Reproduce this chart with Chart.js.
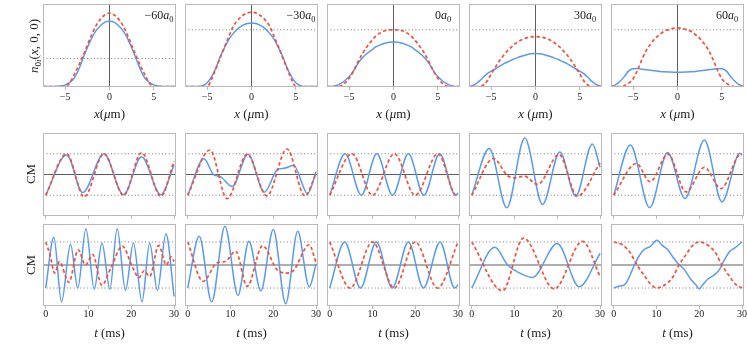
<!DOCTYPE html>
<html>
<head>
<meta charset="utf-8">
<script src="https://cdn.jsdelivr.net/npm/chart.js@4.4.1/dist/chart.umd.min.js"></script>
<style>
  html, body { margin: 0; padding: 0; background: #fff; }
  body { width: 747px; height: 347px; position: relative; overflow: hidden;
         font-family: "Liberation Serif", "DejaVu Serif", serif; color: #222; }
  canvas { position: absolute; }
  .lbl { position: absolute; white-space: nowrap; transform: translate(-50%, -50%); font-size: 13px; line-height: 1; }
  .rot { transform: translate(-50%, -50%) rotate(-90deg); }
  .ann { font-size: 12px; }
  sub { font-size: 70%; vertical-align: -0.35em; line-height: 0; }
</style>
</head>
<body>
<script>
// ---- data -----------------------------------------------------------------
// top row: density cut n_0i(x,0,0) for each scattering length
const shifts = ["\u221260", "\u221230", "0", "30", "60"];
const profX = [-7.5, -7, -6.5, -6, -5.5, -5, -4.5, -4, -3.5, -3, -2.5, -2, -1.5, -1, -0.5, 0,
               0.5, 1, 1.5, 2, 2.5, 3, 3.5, 4, 4.5, 5, 5.5, 6, 6.5, 7, 7.5];
const p1Blue = [0, 0, 0, 0, 0.005, 0.02, 0.05, 0.10, 0.20, 0.34, 0.47, 0.59, 0.68, 0.74, 0.78, 0.79,
                0.78, 0.74, 0.68, 0.59, 0.47, 0.34, 0.20, 0.10, 0.05, 0.02, 0.005, 0, 0, 0, 0];
const p1Red  = [0, 0, 0, 0, 0, 0, 0.04, 0.14, 0.25, 0.37, 0.50, 0.63, 0.74, 0.82, 0.87, 0.89,
                0.87, 0.82, 0.74, 0.63, 0.50, 0.37, 0.25, 0.14, 0.04, 0, 0, 0, 0, 0, 0];
const p2Blue = [0, 0, 0, 0, 0.01, 0.045, 0.12, 0.23, 0.37, 0.48, 0.58, 0.65, 0.705, 0.74, 0.763, 0.77,
                0.763, 0.74, 0.705, 0.65, 0.58, 0.48, 0.37, 0.23, 0.12, 0.045, 0.01, 0, 0, 0, 0];
const p2Red  = [0, 0, 0, 0, 0, 0, 0.09, 0.22, 0.355, 0.49, 0.62, 0.74, 0.81, 0.86, 0.89, 0.90,
                0.89, 0.86, 0.81, 0.74, 0.62, 0.49, 0.355, 0.22, 0.09, 0, 0, 0, 0, 0, 0];
const p3Blue = [0, 0, 0.01, 0.035, 0.07, 0.12, 0.19, 0.28, 0.35, 0.40, 0.44, 0.48, 0.505, 0.525, 0.537, 0.54,
                0.537, 0.525, 0.505, 0.48, 0.44, 0.40, 0.35, 0.28, 0.19, 0.12, 0.07, 0.035, 0.01, 0, 0];
const p3Red  = [0, 0, 0, 0.005, 0.04, 0.10, 0.19, 0.30, 0.40, 0.48, 0.55, 0.61, 0.65, 0.675, 0.685, 0.69,
                0.685, 0.675, 0.65, 0.61, 0.55, 0.48, 0.40, 0.30, 0.19, 0.10, 0.04, 0.005, 0, 0, 0];
const p4Blue = [0, 0.015, 0.05, 0.10, 0.15, 0.185, 0.215, 0.25, 0.28, 0.305, 0.33, 0.35, 0.37, 0.385, 0.397, 0.40,
                0.397, 0.385, 0.37, 0.35, 0.33, 0.305, 0.28, 0.25, 0.215, 0.185, 0.15, 0.10, 0.05, 0.015, 0];
const p4Red  = [0, 0, 0, 0.01, 0.06, 0.15, 0.24, 0.32, 0.39, 0.45, 0.50, 0.54, 0.57, 0.59, 0.60, 0.606,
                0.60, 0.59, 0.57, 0.54, 0.50, 0.45, 0.39, 0.32, 0.24, 0.15, 0.06, 0.01, 0, 0, 0];
const p5Blue = [0, 0.02, 0.06, 0.12, 0.19, 0.215, 0.218, 0.21, 0.203, 0.197, 0.19, 0.183, 0.178, 0.175, 0.173, 0.173,
                0.173, 0.175, 0.178, 0.183, 0.19, 0.197, 0.203, 0.21, 0.218, 0.215, 0.19, 0.12, 0.06, 0.02, 0];
const p5Red  = [0, 0, 0, 0.01, 0.04, 0.095, 0.20, 0.33, 0.44, 0.52, 0.585, 0.63, 0.67, 0.69, 0.705, 0.71,
                0.705, 0.69, 0.67, 0.63, 0.585, 0.52, 0.44, 0.33, 0.20, 0.095, 0.04, 0.01, 0, 0, 0];
const profLevel = [0.34, 0.687, 0.687, 0.687, 0.687];   // dotted reference level per column

// middle row: centre-of-mass oscillation (t in ms)
const r2c1BlueT = [0, 4.9, 8.65, 13.6, 18.2, 22.4, 26.9, 30];
const r2c1BlueY = [-1, 0.94, -0.87, 1.0, -0.97, 0.85, -0.97, 0.45];
const r2c1RedT  = [0, 4.9, 9.0, 13.6, 18.2, 22.4, 26.9, 30];
const r2c1RedY  = [-1, 1.0, -1.08, 1.0, -1.0, 1.05, -1.05, 0.65];
const r2c2BlueT = [0, 3.8, 6.1, 7.6, 10.4, 14.1, 17.9, 21.0, 22.5, 24.8, 28.0, 30];
const r2c2BlueY = [-1, 0.76, -0.02, -0.1, -0.58, 0.98, -0.85, 0.24, 0.3, 0.43, -0.92, 0.13];
const r2c2RedT  = [0, 5.2, 9.2, 13.9, 18.5, 23.2, 27.4, 30];
const r2c2RedY  = [-1, 1.18, -1.16, 0.98, -1.03, 1.23, -1.03, 0.05];
const r2c3BlueT = [0, 3.6, 7.4, 11.0, 14.7, 18.4, 22.0, 25.7, 29.4, 30];
const r2c3BlueY = [-1, 1, -1, 1, -1, 1, -1, 1, -1, -0.9];
const r2c3RedT  = [0, 5.2, 10.0, 15.1, 20.0, 25.3, 29.6, 30];
const r2c3RedY  = [-1, 1, -1, 1, -1, 1, -1, -0.95];
const r2c4BlueT = [0, 4.1, 8.2, 12.4, 16.55, 20.6, 24.3, 28.2, 30];
const r2c4BlueY = [-1, 1.25, -1.6, 1.76, -1.44, 1.09, -1.04, 1.47, 0.35];
const r2c4RedT  = [0, 5.1, 8.4, 9.9, 12.3, 15.4, 20.4, 24.7, 30];
const r2c4RedY  = [-1, 0.77, -0.06, -0.16, -0.08, -0.48, 0.96, -1.04, 0.56];
const r2c5BlueT = [0, 3.9, 8.4, 12.6, 16.65, 21.2, 25.3, 29.5, 30];
const r2c5BlueY = [-1, 1.42, -1.6, 1.06, -1.16, 1.66, -1.32, 1.02, 0.94];
const r2c5RedT  = [0, 5.3, 8.5, 12.7, 16.9, 21.2, 25.1, 29.7, 30];
const r2c5RedY  = [-1, 0.53, -0.35, 0.98, -0.84, 0.34, -0.68, 0.98, 0.96];

// bottom row
const r3c1BlueT = [0, 1.9, 3.7, 5.8, 7.5, 9.4, 11.35, 13.15, 15.0, 16.7, 18.65, 20.5, 22.5, 24.3, 26.1, 28.1, 30];
const r3c1BlueY = [-1, 1.2, -1.6, 0.9, -1.0, 1.57, -1.05, 0.95, -1.05, 1.57, -1.1, 0.95, -1.6, 0.96, -1.1, 1.36, -1.36];
const r3c1RedT  = [0, 1.0, 2.1, 3.2, 5.4, 7.6, 9.3, 11.0, 13.1, 15.3, 17.9, 20.3, 21.8, 23.0, 24.3, 26.4, 28.2, 29.3, 30];
const r3c1RedY  = [1.0, 0.45, -0.35, 0.15, -0.75, 0.66, 0.0, 0.45, -0.88, -0.1, 0.82, -0.1, -0.55, -0.25, -0.5, 0.85, 0.0, 0.35, 0.15];
const r3c2BlueT = [0, 2.7, 5.6, 8.7, 11.75, 14.3, 17.1, 20.0, 22.9, 25.7, 28.4, 30];
const r3c2BlueY = [-1, 1.25, -1.6, 1.68, -1.32, 1.03, -1.12, 1.54, -1.68, 1.46, -0.95, 0.05];
const r3c2RedT  = [0, 3.6, 6.9, 8.8, 11.2, 13.9, 17.5, 21.0, 23.3, 24.8, 28.4, 30];
const r3c2RedY  = [1, -0.71, 0.1, 0.15, 0.6, -0.93, 0.84, -0.23, -0.35, -0.22, 0.88, 0.09];
const r3c3BlueT = [0, 3.5, 7.2, 10.9, 14.6, 18.4, 21.9, 25.8, 29.2, 30];
const r3c3BlueY = [-1, 1, -1, 1, -1, 1, -1, 1, -1, -0.86];
const r3c3RedT  = [0, 4.8, 10.0, 15.1, 20.0, 25.2, 30];
const r3c3RedY  = [1, -1, 1, -1, 1, -1, 1];
const r3c4BlueT = [0, 5.4, 8.4, 10.7, 14.2, 20.0, 25.1, 30];
const r3c4BlueY = [-1, 0.77, 0.0, -0.3, -0.54, 0.93, -0.94, 0.5];
const r3c4RedT  = [0, 7.2, 12.1, 19.3, 25.9, 30];
const r3c4RedY  = [1, -1.12, 1.17, -1.04, 1.03, -0.5];
const r3c5BlueT = [0, 1.0, 2.7, 4.7, 5.9, 7.1, 8.6, 10.05, 11.4, 12.6, 13.7, 14.9, 16.5, 18.1, 19.2, 20.0,
                   20.8, 22.0, 23.6, 24.7, 25.9, 27.1, 28.3, 30];
const r3c5BlueY = [-1, -0.93, -0.83, -0.06, 0.38, 0.67, 0.81, 1.07, 0.84, 0.67, 0.38, 0.09, -0.2, -0.64, -0.86, -1.04,
                   -0.86, -0.61, -0.42, -0.2, 0.23, 0.59, 0.74, 1.0];
const r3c5RedT  = [0, 2, 3.9, 5.2, 7.0, 8.6, 10.05, 12, 13.9, 15.1, 16.9, 18.4, 20, 22, 23.9, 25.1, 26.9, 28.5, 30];
const r3c5RedY  = [1, 0.88, 0.52, 0.08, -0.42, -0.82, -1, -0.86, -0.5, -0.05, 0.45, 0.84, 1, 0.86, 0.5, 0.05, -0.45, -0.84, -1];

const profTicks = [-5, 0, 5];
const timeTicks = [0, 10, 20, 30];

// ---- styling -----------------------------------------------------------------
const BLUE = "#5a9bef", RED = "#f4513c", FRAME = "#b9b9b9", DOTS = "#7a7a7a", AXIS = "#5e5e5e";
const FONT = '"Liberation Serif", "DejaVu Serif", serif';
const colLeft = [43, 185, 327, 469, 611];
const PW = 133, PAD = 14;
const rowBox = [{ top: 4, h: 83 }, { top: 133, h: 83 }, { top: 224, h: 82 }];

function pts(xs, ys) { return xs.map((x, i) => ({ x, y: ys[i] })); }

function curve(data, color, dashed) {
  return {
    data, borderColor: color, borderWidth: dashed ? 1.7 : 1.5,
    borderDash: dashed ? [3.5, 2.5] : [], cubicInterpolationMode: "monotone",
    pointRadius: 0, fill: false,
  };
}
function guide(data, color, dash) {
  return { data, borderColor: color, borderWidth: 1, borderDash: dash || [], pointRadius: 0, tension: 0, fill: false };
}

// frame round the plot area
const framePlugin = {
  id: "frame",
  afterDatasetsDraw(chart) {
    const { ctx, chartArea: a } = chart;
    ctx.save();
    ctx.strokeStyle = FRAME;
    ctx.lineWidth = 1;
    ctx.strokeRect(a.left + 0.5, a.top + 0.5, a.right - a.left - 1, a.bottom - a.top - 1);
    ctx.restore();
  },
};

function makePanel(row, col, datasets, xr, yr, xTicks, axisH, showLabels, tickPad) {
  const box = rowBox[row];
  const cv = document.createElement("canvas");
  const w = PW + 2 * PAD, h = PAD + box.h + axisH;
  cv.width = w; cv.height = h;
  cv.style.width = w + "px"; cv.style.height = h + "px";
  cv.style.left = (colLeft[col] - PAD) + "px";
  cv.style.top = (box.top - PAD) + "px";
  document.body.appendChild(cv);
  new Chart(cv, {
    type: "line",
    data: { datasets },
    options: {
      responsive: false, animation: false, devicePixelRatio: 1,
      layout: { padding: { left: PAD, right: PAD, top: PAD, bottom: 0 } },
      plugins: { legend: { display: false }, tooltip: { enabled: false } },
      scales: {
        x: {
          type: "linear", min: xr[0], max: xr[1],
          afterBuildTicks: (s) => { s.ticks = xTicks.map((v) => ({ value: v })); },
          afterFit: (s) => { s.height = axisH; },
          border: { display: false },
          grid: { display: true, drawOnChartArea: false, drawTicks: true, tickLength: 3, color: FRAME },
          ticks: {
            display: showLabels, autoSkip: false, maxRotation: 0, padding: tickPad, color: "#222",
            font: { family: FONT, size: 10 },
            callback: (v) => (v < 0 ? "\u2212" + Math.abs(v) : String(v)),
          },
        },
        y: { type: "linear", display: false, min: yr[0], max: yr[1] },
      },
    },
    plugins: [framePlugin],
  });
}

function label(html, x, y, cls) {
  const d = document.createElement("div");
  d.className = "lbl " + (cls || "");
  d.innerHTML = html;
  d.style.left = x + "px";
  d.style.top = y + "px";
  document.body.appendChild(d);
}

// ---- top row ---------------------------------------------------------------
const profBlue = [p1Blue, p2Blue, p3Blue, p4Blue, p5Blue];
const profRed = [p1Red, p2Red, p3Red, p4Red, p5Red];
const PX = [-7.5, 7.5], PY = [-0.006, 1.0];
for (let c = 0; c < 5; c++) {
  makePanel(0, c, [
    curve(pts(profX, profRed[c]), RED, true),
    curve(pts(profX, profBlue[c]), BLUE, false),
    guide([{ x: PX[0], y: profLevel[c] }, { x: PX[1], y: profLevel[c] }], DOTS, [1, 2.4]),
    guide([{ x: 0, y: PY[0] }, { x: 0, y: PY[1] }], AXIS),
  ], PX, PY, profTicks, 24, true, 1);
  label(shifts[c] + "<i>a</i><sub>0</sub>", colLeft[c] + 116, 15, "ann");
  label(c === 0 ? "<i>x</i>(<i>\u03bc</i>m)" : "<i>x</i> (<i>\u03bc</i>m)", colLeft[c] + PW / 2, 113);
}

// ---- CM rows -----------------------------------------------------------------
const cmRows = [
  [[r2c1BlueT, r2c1BlueY, r2c1RedT, r2c1RedY], [r2c2BlueT, r2c2BlueY, r2c2RedT, r2c2RedY],
   [r2c3BlueT, r2c3BlueY, r2c3RedT, r2c3RedY], [r2c4BlueT, r2c4BlueY, r2c4RedT, r2c4RedY],
   [r2c5BlueT, r2c5BlueY, r2c5RedT, r2c5RedY]],
  [[r3c1BlueT, r3c1BlueY, r3c1RedT, r3c1RedY], [r3c2BlueT, r3c2BlueY, r3c2RedT, r3c2RedY],
   [r3c3BlueT, r3c3BlueY, r3c3RedT, r3c3RedY], [r3c4BlueT, r3c4BlueY, r3c4RedT, r3c4RedY],
   [r3c5BlueT, r3c5BlueY, r3c5RedT, r3c5RedY]],
];
const TX = [-0.63, 30.45];
const cmRange = [[-2, 2], [-1.78, 1.78]];
for (let r = 0; r < 2; r++) {
  for (let c = 0; c < 5; c++) {
    const [bt, by, rt, ry] = cmRows[r][c];
    makePanel(r + 1, c, [
      curve(pts(rt, ry), RED, true),
      curve(pts(bt, by), BLUE, false),
      guide([{ x: TX[0], y: 1 }, { x: TX[1], y: 1 }], DOTS, [1, 2.4]),
      guide([{ x: TX[0], y: -1 }, { x: TX[1], y: -1 }], DOTS, [1, 2.4]),
      guide([{ x: TX[0], y: 0 }, { x: TX[1], y: 0 }], AXIS),
    ], TX, cmRange[r], timeTicks, r === 1 ? 24 : 6, r === 1, -1);
    if (r === 1) label("<i>t</i> (ms)", colLeft[c] + PW / 2, 332);
  }
}

// y-axis titles
label("<i>n</i><sub>0<i>i</i></sub>(<i>x</i>, 0, 0)", 33, 46, "rot");
label("CM", 30, 174, "rot");
label("CM", 30, 265, "rot");
</script>
</body>
</html>
